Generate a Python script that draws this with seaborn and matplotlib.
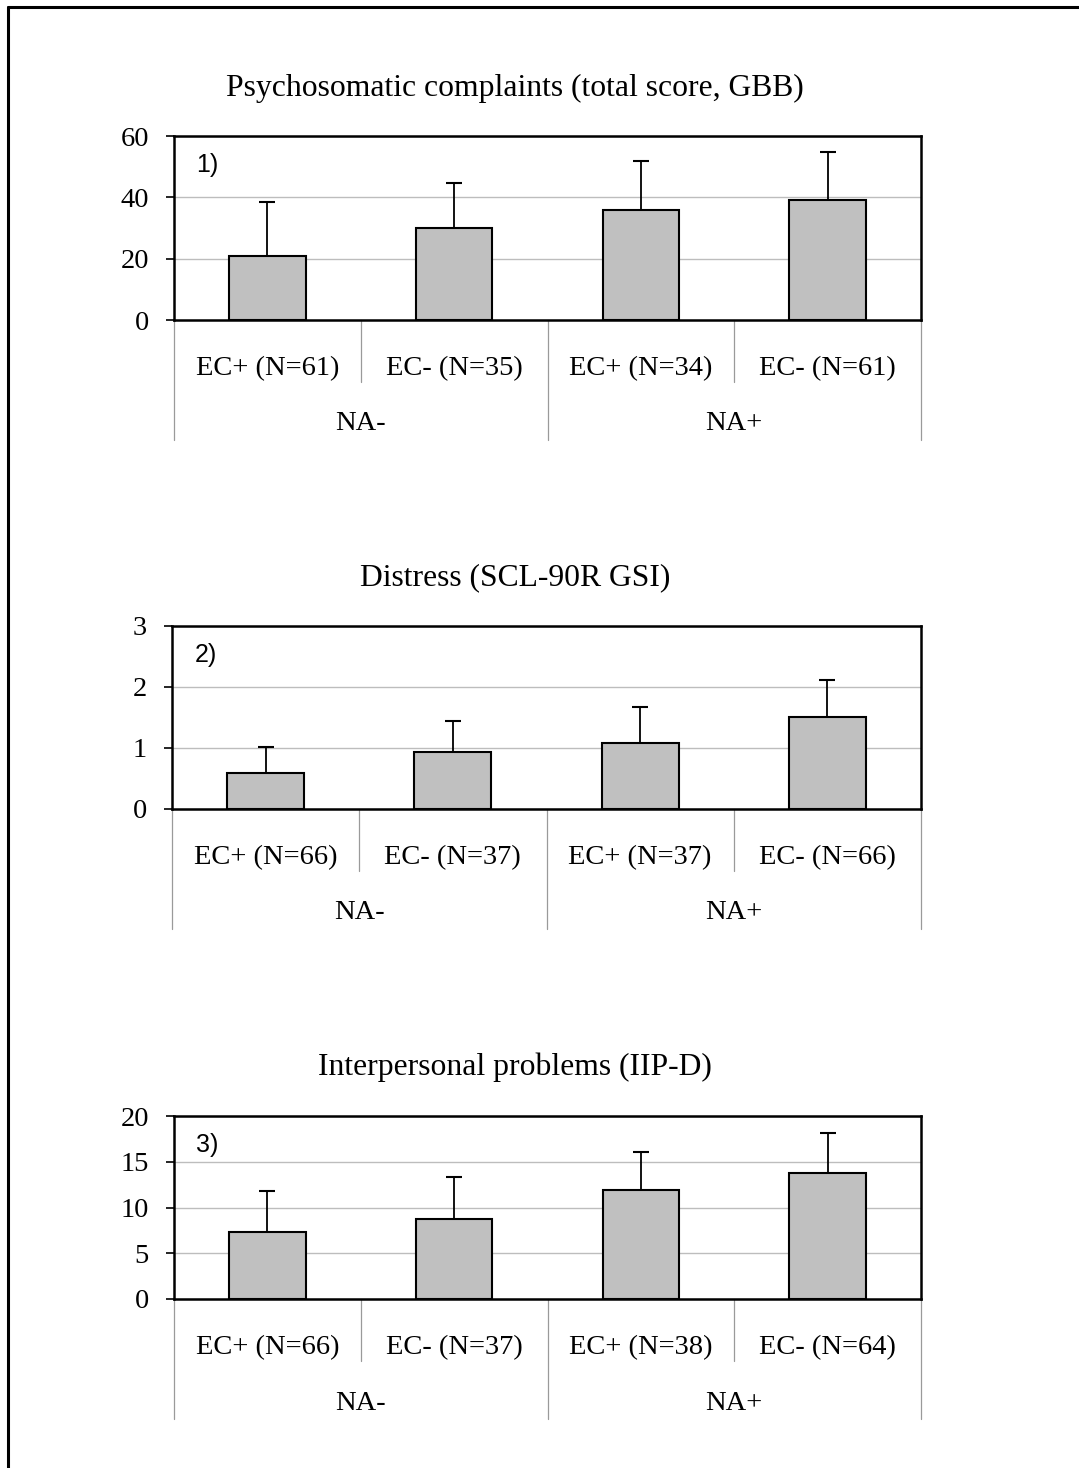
import matplotlib
matplotlib.use("Agg")
import matplotlib.pyplot as plt
import seaborn as sns
import pandas as pd
from matplotlib.lines import Line2D

# ---- data ----
titles = ["Psychosomatic complaints (total score, GBB)",
          "Distress (SCL-90R GSI)",
          "Interpersonal problems (IIP-D)"]
panel_tags = ["1)", "2)", "3)"]
groups = ["NA-", "NA+"]

labels1 = ["EC+ (N=61)", "EC- (N=35)", "EC+ (N=34)", "EC- (N=61)"]
means1 = [20.8, 30.1, 35.8, 39.2]
upper1 = [38.4, 44.6, 51.7, 54.8]

labels2 = ["EC+ (N=66)", "EC- (N=37)", "EC+ (N=37)", "EC- (N=66)"]
means2 = [0.59, 0.93, 1.08, 1.50]
upper2 = [1.02, 1.45, 1.68, 2.12]

labels3 = ["EC+ (N=66)", "EC- (N=37)", "EC+ (N=38)", "EC- (N=64)"]
means3 = [7.3, 8.7, 11.9, 13.8]
upper3 = [11.8, 13.3, 16.05, 18.15]

yticks1 = [0, 20, 40, 60]
yticks2 = [0, 1, 2, 3]
yticks3 = [0, 5, 10, 15, 20]

# ---- styling ----
sns.set_theme(style="white")
plt.rcParams["font.family"] = ["Liberation Serif", "DejaVu Serif"]
plt.rcParams["text.color"] = "black"
plt.rcParams["xtick.color"] = "black"
plt.rcParams["ytick.color"] = "black"
plt.rcParams["axes.labelcolor"] = "black"

W, H = 1079, 1468
fig = plt.figure(figsize=(W / 100, H / 100), dpi=100)

# axes boxes in pixel coords: left, top, right, bottom
boxes = [(174, 136, 921, 320), (172, 626, 921, 809), (174, 1116, 921, 1299)]
title_y = [88, 578, 1067]

panels = [(labels1, means1, upper1, yticks1),
          (labels2, means2, upper2, yticks2),
          (labels3, means3, upper3, yticks3)]

FS = 20.5
for i, ((labels, means, upper, yt), (l, t, r, b)) in enumerate(zip(panels, boxes)):
    ax = fig.add_axes([l / W, 1 - b / H, (r - l) / W, (b - t) / H])
    df = pd.DataFrame({"cat": labels, "mean": means})
    sns.barplot(data=df, x="cat", y="mean", order=labels, color="#C0C0C0",
                saturation=1, width=0.41, edgecolor="black", linewidth=1.5,
                errorbar=None, ax=ax, zorder=3)
    errs = [u - m for u, m in zip(upper, means)]
    _, caps, _ = ax.errorbar(range(len(labels)), means,
                             yerr=[[0] * len(errs), errs], fmt="none",
                             ecolor="black", elinewidth=1.3, capsize=6,
                             capthick=1.5, zorder=4)
    caps[0].set_visible(False)

    ax.set_xlim(-0.5, 3.5)
    ax.set_ylim(yt[0], yt[-1])
    ax.set_yticks(yt)
    ax.set_yticklabels([str(v) for v in yt], fontsize=FS)
    ax.yaxis.grid(True, color="#BDBDBD", linewidth=1.0, zorder=0)
    ax.set_axisbelow(True)
    ax.tick_params(axis="y", which="major", left=True, length=6, width=1.2,
                   direction="out", color="black", labelcolor="black", pad=12)
    ax.set_xticks(range(len(labels)))
    ax.set_xticklabels(labels, fontsize=FS)
    ax.tick_params(axis="x", length=0, pad=26, labelcolor="black")
    ax.set_xlabel("")
    ax.set_ylabel("")
    for s in ax.spines.values():
        s.set_visible(True)
        s.set_color("black")
        s.set_linewidth(1.8)

    hpx = b - t
    # group labels
    gy = -(424 - 320) / hpx
    for g, xc in zip(groups, [0.25, 0.75]):
        ax.text(xc, gy, g, transform=ax.transAxes, ha="center", va="center",
                fontsize=FS, color="black")
    # separators
    full = -(440 - 320) / hpx
    short = -(382 - 320) / hpx
    for xf, yb in [(0, full), (0.25, short), (0.5, full), (0.75, short), (1.0, full)]:
        ax.add_line(Line2D([xf, xf], [0, yb], transform=ax.transAxes,
                           color="#9A9A9A", linewidth=0.9, clip_on=False))
    # panel tag
    ax.text(0.045, 1 - (165 - 136) / hpx, panel_tags[i], transform=ax.transAxes,
            ha="center", va="center", fontsize=18, color="black",
            family=["Liberation Sans", "DejaVu Sans"], zorder=5)
    # title
    ax.text((515 - l) / (r - l), 1 + (t - title_y[i]) / hpx, titles[i],
            transform=ax.transAxes, ha="center", va="center", fontsize=22.8,
            color="black")

# outer border (top and left edges only)
fig.add_artist(Line2D([8 / W, 8 / W], [0, 1 - 7 / H], color="black",
                      linewidth=2.2, transform=fig.transFigure))
fig.add_artist(Line2D([8 / W, 1], [1 - 7 / H, 1 - 7 / H], color="black",
                      linewidth=2.2, transform=fig.transFigure))

fig.savefig("out.png", dpi=100, facecolor="white")
